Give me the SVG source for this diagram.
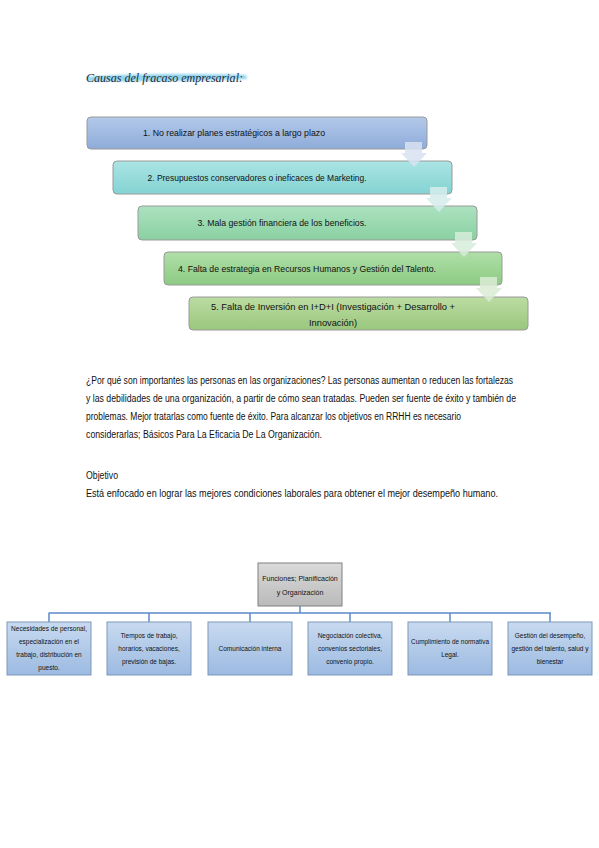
<svg xmlns="http://www.w3.org/2000/svg" width="599" height="848" viewBox="0 0 599 848">
<defs>
<linearGradient id="g1" x1="0" y1="0" x2="0" y2="1"><stop offset="0" stop-color="#b3c9ea"/><stop offset="1" stop-color="#8eabd9"/></linearGradient>
<linearGradient id="g2" x1="0" y1="0" x2="0" y2="1"><stop offset="0" stop-color="#abe4e4"/><stop offset="1" stop-color="#84d3d3"/></linearGradient>
<linearGradient id="g3" x1="0" y1="0" x2="0" y2="1"><stop offset="0" stop-color="#ace2c0"/><stop offset="1" stop-color="#8ad0a2"/></linearGradient>
<linearGradient id="g4" x1="0" y1="0" x2="0" y2="1"><stop offset="0" stop-color="#b0dfa8"/><stop offset="1" stop-color="#8ccb83"/></linearGradient>
<linearGradient id="g5" x1="0" y1="0" x2="0" y2="1"><stop offset="0" stop-color="#bcdca2"/><stop offset="1" stop-color="#9ac77d"/></linearGradient>
<linearGradient id="gh" x1="0" y1="0" x2="0" y2="1"><stop offset="0" stop-color="#dadada"/><stop offset="1" stop-color="#bababa"/></linearGradient>
<linearGradient id="gc" x1="0" y1="0" x2="0" y2="1"><stop offset="0" stop-color="#c8daf0"/><stop offset="1" stop-color="#9cbae1"/></linearGradient>
<filter id="blur" x="-5%" y="-50%" width="110%" height="200%"><feGaussianBlur stdDeviation="0.9"/></filter>
</defs>
<style>
.t{font-family:"Liberation Sans",Arial,sans-serif;fill:#111111}
.box{stroke:#9a9a9a;stroke-width:1}
.bt{font-size:9.5px;text-anchor:middle}
.p{font-size:10px}
.c{font-size:6.5px;text-anchor:middle}
.child{fill:url(#gc);stroke:#7f97b8;stroke-width:1}
.conn{stroke:#5b8ccc;stroke-width:1.5;fill:none}
.arrow{opacity:0.85}
</style>
<rect width="599" height="848" fill="#ffffff"/>

<g id="title">
<path d="M86,77 C120,74 180,73 246,75 L247,79 C190,81 130,82 88,81 Z" fill="#7fcdec" opacity="0.85" filter="url(#blur)"/>
<text x="86" y="82" font-style="italic" font-size="13" fill="#1f2a38" textLength="157" lengthAdjust="spacingAndGlyphs" style="font-family:'Liberation Serif',serif">Causas del fracaso empresarial:</text>
</g>

<g id="causas">
<g id="c1"><rect class="box" x="87" y="117" width="340" height="32" rx="4" fill="url(#g1)"/>
<text class="t bt" x="234" y="136" textLength="182" lengthAdjust="spacingAndGlyphs">1. No realizar planes estratégicos a largo plazo</text></g>
<g id="c2"><rect class="box" x="113" y="161" width="339" height="33" rx="4" fill="url(#g2)"/>
<text class="t bt" x="257" y="181" textLength="219" lengthAdjust="spacingAndGlyphs">2. Presupuestos conservadores o ineficaces de Marketing.</text></g>
<g id="c3"><rect class="box" x="138" y="206" width="339" height="34" rx="4" fill="url(#g3)"/>
<text class="t bt" x="282" y="226" textLength="169" lengthAdjust="spacingAndGlyphs">3. Mala gestión financiera de los beneficios.</text></g>
<g id="c4"><rect class="box" x="164" y="252" width="338" height="33" rx="4" fill="url(#g4)"/>
<text class="t bt" x="307" y="272" textLength="258" lengthAdjust="spacingAndGlyphs">4. Falta de estrategia en Recursos Humanos y Gestión del Talento.</text></g>
<g id="c5"><rect class="box" x="189" y="297" width="339" height="33" rx="4" fill="url(#g5)"/>
<text class="t bt" x="333" y="310" textLength="244" lengthAdjust="spacingAndGlyphs">5. Falta de Inversión en I+D+I (Investigación + Desarrollo +</text>
<text class="t bt" x="333" y="326" textLength="48" lengthAdjust="spacingAndGlyphs">Innovación)</text></g>
</g>

<g id="arrows">
<polygon class="arrow" points="405,142 422,142 422,153 427,153 414,167 401,153 405,153" fill="#d9e2f1"/>
<polygon class="arrow" points="430,187 447,187 447,198 452,198 439,212 426,198 430,198" fill="#d5edeb"/>
<polygon class="arrow" points="455,232 472,232 472,243 477,243 464,257 451,243 455,243" fill="#d6ecdb"/>
<polygon class="arrow" points="480,277 497,277 497,288 502,288 489,302 476,288 480,288" fill="#d9ecd5"/>
</g>

<g id="parrafo">
<text class="t p" x="86" y="384" textLength="427" lengthAdjust="spacingAndGlyphs">¿Por qué son importantes las personas en las organizaciones? Las personas aumentan o reducen las fortalezas</text>
<text class="t p" x="86" y="402" textLength="430" lengthAdjust="spacingAndGlyphs">y las debilidades de una organización, a partir de cómo sean tratadas. Pueden ser fuente de éxito y también de</text>
<text class="t p" x="86" y="420" textLength="375" lengthAdjust="spacingAndGlyphs">problemas. Mejor tratarlas como fuente de éxito. Para alcanzar los objetivos en RRHH es necesario</text>
<text class="t p" x="86" y="438" textLength="236" lengthAdjust="spacingAndGlyphs">considerarlas; Básicos Para La Eficacia De La Organización.</text>
<text class="t p" x="86" y="479" textLength="32" lengthAdjust="spacingAndGlyphs">Objetivo</text>
<text class="t p" x="86" y="497" textLength="412" lengthAdjust="spacingAndGlyphs">Está enfocado en lograr las mejores condiciones laborales para obtener el mejor desempeño humano.</text>
</g>

<g id="connectors">
<path class="conn" d="M300,606 V613 M49,613 H551 M49,612.5 V622 M149,612.5 V622 M250,612.5 V622 M350,612.5 V622 M450,612.5 V622 M550,612.5 V622"/>
</g>

<g id="funciones">
<rect x="258" y="563" width="84" height="43" fill="url(#gh)" stroke="#808080" stroke-width="1"/>
<text class="t c" x="300" y="581" style="font-size:7px">Funciones; Planificación</text>
<text class="t c" x="300" y="595" style="font-size:7px">y Organización</text>
</g>

<g id="n1"><rect class="child" x="7" y="622" width="84" height="53"/>
<text class="t c" x="49" y="631" textLength="76" lengthAdjust="spacingAndGlyphs">Necesidades de personal,</text>
<text class="t c" x="49" y="644">especialización en el</text>
<text class="t c" x="49" y="657">trabajo, distribución en</text>
<text class="t c" x="49" y="670">puesto.</text></g>
<g id="n2"><rect class="child" x="107" y="622" width="84" height="53"/>
<text class="t c" x="149" y="638">Tiempos de trabajo,</text>
<text class="t c" x="149" y="651">horarios, vacaciones,</text>
<text class="t c" x="149" y="664">previsión de bajas.</text></g>
<g id="n3"><rect class="child" x="208" y="622" width="84" height="53"/>
<text class="t c" x="250" y="651">Comunicación interna</text></g>
<g id="n4"><rect class="child" x="308" y="622" width="84" height="53"/>
<text class="t c" x="350" y="638">Negociación colectiva,</text>
<text class="t c" x="350" y="651">convenios sectoriales,</text>
<text class="t c" x="350" y="664">convenio propio.</text></g>
<g id="n5"><rect class="child" x="408" y="622" width="84" height="53"/>
<text class="t c" x="450" y="644" textLength="78" lengthAdjust="spacingAndGlyphs">Cumplimiento de normativa</text>
<text class="t c" x="450" y="657">Legal.</text></g>
<g id="n6"><rect class="child" x="508" y="622" width="84" height="53"/>
<text class="t c" x="550" y="638">Gestión del desempeño,</text>
<text class="t c" x="550" y="651" textLength="77" lengthAdjust="spacingAndGlyphs">gestión del talento, salud y</text>
<text class="t c" x="550" y="664">bienestar</text></g>
</svg>
